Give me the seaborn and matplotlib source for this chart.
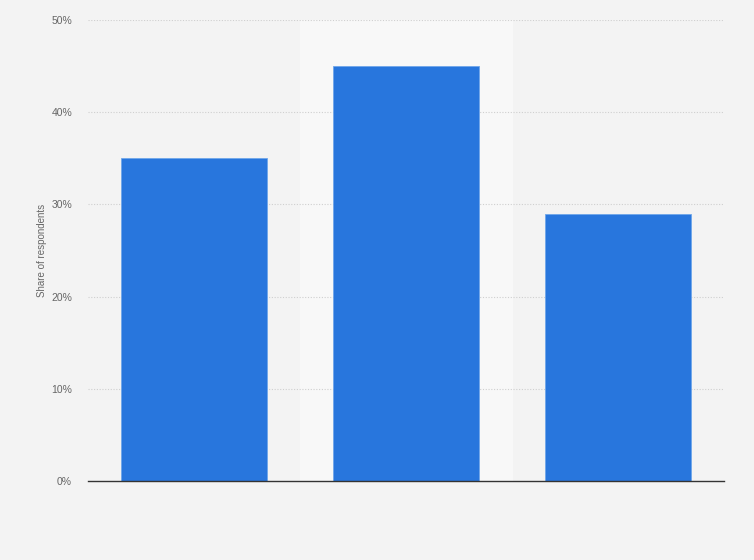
import matplotlib
matplotlib.use("Agg")
import matplotlib.pyplot as plt
import seaborn as sns
import pandas as pd

categories = ["Category 1", "Category 2", "Category 3"]
values = [35, 45, 29]
yticks = [0, 10, 20, 30, 40, 50]
ytick_labels = ["0%", "10%", "20%", "30%", "40%", "50%"]
highlight_index = 1

sns.set_theme(style="white")
plt.rcParams['font.family'] = ['Liberation Sans', 'DejaVu Sans']

df = pd.DataFrame({"category": categories, "value": values})

fig = plt.figure(figsize=(7.54, 5.6), dpi=100)
fig.patch.set_facecolor("#f3f3f3")
ax = fig.add_axes([88/754, 79/560, 636/754, 461/560])
ax.set_facecolor("#f3f3f3")

ax.axvspan(highlight_index - 0.5, highlight_index + 0.5, color="#f8f8f8", zorder=0)

sns.barplot(data=df, x="category", y="value", color="#2876dd", saturation=1,
            width=0.69, edgecolor="#6fa6ea", linewidth=0.6, ax=ax, zorder=3)

ax.set_xlim(-0.5, len(categories) - 0.5)
ax.set_ylim(0, 50)
ax.set_yticks(yticks)
ax.set_yticklabels(ytick_labels, color="#666666", fontsize=7.5)
ax.tick_params(axis="y", length=0, pad=11.5)
ax.set_xticks([])
ax.set_xlabel("")
ax.set_ylabel("Share of respondents", color="#666666", fontsize=7)
ax.yaxis.set_label_coords(-0.064, 0.5)

for y in yticks[1:]:
    ax.axhline(y, color="#cfcfcf", linestyle=(0, (1, 1.5)), linewidth=0.8, zorder=1)

for s in ["top", "right", "left"]:
    ax.spines[s].set_visible(False)
ax.spines["bottom"].set_color("#333333")
ax.spines["bottom"].set_linewidth(1.0)
ax.spines["bottom"].set_zorder(5)

fig.savefig("out.png", dpi=100, facecolor=fig.get_facecolor())
